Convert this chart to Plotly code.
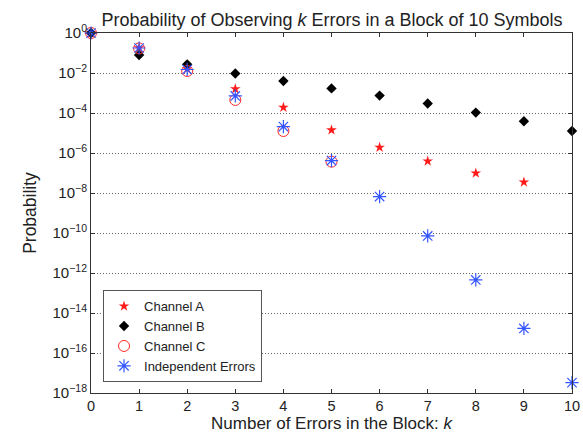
import plotly.graph_objects as go

k = [0, 1, 2, 3, 4, 5, 6, 7, 8, 9, 10]

channel_a = [1.0, 1.8e-1, 1.6e-2, 1.6e-3, 1.9e-4, 1.4e-5, 1.9e-6, 3.9e-7, 9.8e-8, 3.5e-8, None]
channel_b = [1.0, 7.9e-2, 2.7e-2, 9.5e-3, 4.0e-3, 1.7e-3, 7.4e-4, 3.0e-4, 1.05e-4, 3.9e-5, 1.26e-5]
channel_c = [1.0, 1.7e-1, 1.26e-2, 4.5e-4, 1.26e-5, 3.7e-7, None, None, None, None, None]
independent = [1.0, 1.78e-1, 1.5e-2, 7.1e-4, 2.1e-5, 4.2e-7, 6.6e-9, 7.1e-11, 4.5e-13, 1.7e-15, 3.3e-18]

y_tick_exps = [0, -2, -4, -6, -8, -10, -12, -14, -16, -18]
x_ticks = [0, 1, 2, 3, 4, 5, 6, 7, 8, 9, 10]

FONT = "Liberation Sans, Arial, sans-serif"

fig = go.Figure()
fig.add_trace(go.Scatter(x=k, y=channel_a, mode="markers", name="Channel A",
                         marker=dict(symbol="star", size=8, color="#ff1a1a", line=dict(width=0)),
                         cliponaxis=False))
fig.add_trace(go.Scatter(x=k, y=channel_b, mode="markers", name="Channel B",
                         marker=dict(symbol="diamond", size=8, color="black", line=dict(width=0)),
                         cliponaxis=False))
fig.add_trace(go.Scatter(x=k, y=channel_c, mode="markers", name="Channel C",
                         marker=dict(symbol="circle-open", size=11, color="#ff2a2a", line=dict(width=1)),
                         cliponaxis=False))
fig.add_trace(go.Scatter(x=k, y=independent, mode="markers", name="Independent Errors",
                         marker=dict(symbol="asterisk-open", size=11, color="#3355ff", line=dict(width=1.2)),
                         cliponaxis=False))

fig.update_layout(
    width=583, height=433,
    margin=dict(l=91, r=11, t=33, b=40, autoexpand=False),
    paper_bgcolor="white", plot_bgcolor="white",
    font=dict(family=FONT, size=15, color="#222"),
    title=dict(text="Probability of Observing <i>k</i> Errors in a Block of 10 Symbols",
               x=332 / 583, xanchor="center", y=1 - 20 / 433, yanchor="middle",
               font=dict(size=18, color="#222")),
    showlegend=True,
    legend=dict(x=0.025, y=0.03, xanchor="left", yanchor="bottom",
                bgcolor="white", bordercolor="#555", borderwidth=1,
                font=dict(size=13, color="#222"), itemwidth=30,
                tracegroupgap=0),
)

fig.update_xaxes(
    range=[0, 10], tickvals=x_ticks, ticktext=[str(v) for v in x_ticks],
    ticks="inside", ticklen=4, tickcolor="#333", showline=True, linecolor="#333", linewidth=1,
    mirror="allticks", showgrid=False, zeroline=False, automargin=False,
    title=dict(text="Number of Errors in the Block: <i>k</i>", standoff=0, font=dict(size=17)),
    tickfont=dict(size=14.5),
)
fig.update_yaxes(
    type="log", range=[-18, 0],
    tickvals=[10.0 ** e for e in y_tick_exps],
    ticktext=["10<sup>%s</sup>" % (str(e).replace("-", "\u2212")) for e in y_tick_exps],
    ticks="inside", ticklen=4, tickcolor="#333", showline=True, linecolor="#333", linewidth=1,
    mirror="allticks", showgrid=True, gridcolor="#666", griddash="1px,2px", gridwidth=1,
    zeroline=False, automargin=False,
    title=dict(text="Probability", standoff=11, font=dict(size=17.5)),
    tickfont=dict(size=15),
)

fig.write_html("out.html", config={"displayModeBar": False},
               post_script="document.body.style.margin='0';")
